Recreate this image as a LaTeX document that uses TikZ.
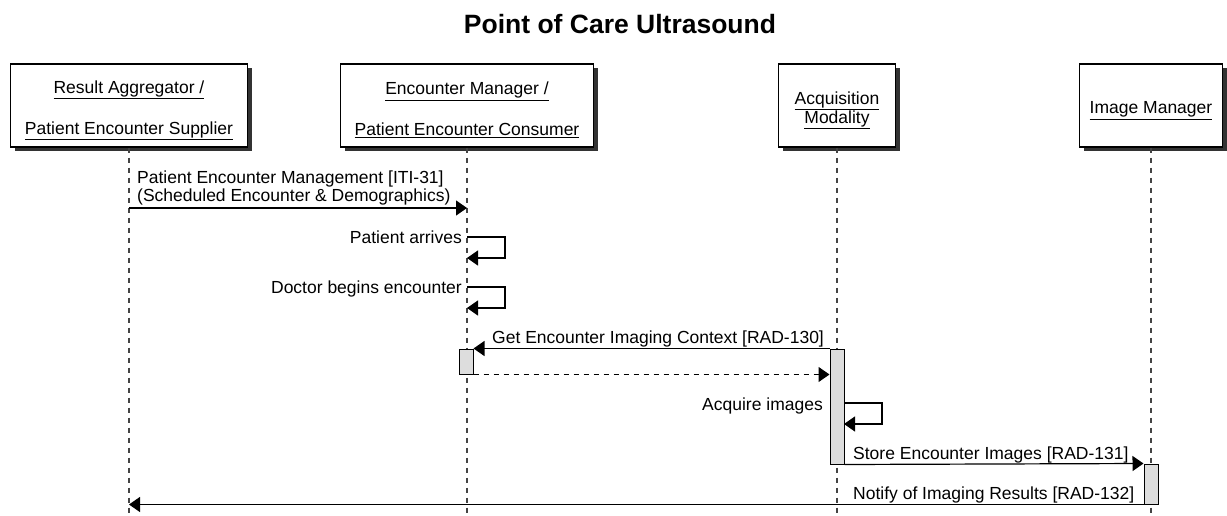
\documentclass[tikz,border=0pt]{standalone}
\usepackage{fontspec}
\setmainfont{Liberation Sans}
\usetikzlibrary{arrows.meta,shadows}
\definecolor{actfill}{HTML}{DDDDDD}
\definecolor{lifegray}{HTML}{444444}
\newcommand{\msgfont}{\fontsize{17.5}{18}\selectfont}
\newcommand{\topstrut}{\rule{0pt}{22pt}}

\begin{document}
\begin{tikzpicture}[x=1pt, y=-1pt,
    actor/.style={draw, line width=1.2pt, fill=white, minimum height=83pt, align=center,
      font=\fontsize{17.5}{19}\selectfont, inner sep=0pt,
      drop shadow={shadow xshift=4pt, shadow yshift=-4pt, fill=black!80, opacity=1}},
    lifeline/.style={draw=lifegray, line width=1.1pt, dash pattern=on 5pt off 5pt},
    act/.style={draw, line width=1pt, fill=actfill, minimum width=14pt, inner sep=0pt},
    msg/.style={line width=1.2pt, -{Triangle[length=11pt,width=15pt]}},
    reply/.style={msg, dash pattern=on 5pt off 5pt},
    lbl/.style={font=\msgfont, inner sep=0pt}]
    \useasboundingbox (0,0) rectangle (1227,516);

    \node[font=\bfseries\fontsize{26.5}{30}\selectfont, anchor=base] (title) at (620,34) {Point of Care Ultrasound};

    % participants
    \node[actor, minimum width=237pt] (ra) at (129,105.5)
        {\topstrut\underline{Result Aggregator /}\\[22pt]\underline{Patient Encounter Supplier}};
    \node[actor, minimum width=253pt] (em) at (467,105.5)
        {\topstrut\underline{Encounter Manager /}\\[22pt]\underline{Patient Encounter Consumer}};
    \node[actor, minimum width=117pt] (am) at (837,105.5)
        {\topstrut\underline{Acquisition}\\\underline{Modality}};
    \node[actor, minimum width=143pt] (im) at (1151,105.5) {\topstrut\underline{Image Manager}};

    \coordinate (bottom) at (0,516);
    \coordinate (m1) at (0,208);
    \coordinate (arrive) at (467,237);
    \coordinate (begin) at (467,287);
    \coordinate (acq) at (844,403);

    % lifelines
    \draw[lifeline] (ra.south) -- (ra |- bottom);
    \draw[lifeline] (em.south) -- (em |- bottom);
    \draw[lifeline] (am.south) -- (am |- bottom);
    \draw[lifeline] (im.south) -- (im |- bottom);

    % activations
    \node[act, minimum height=25pt] (emact) at (466,361.5) {};
    \node[act, minimum height=115pt] (amact) at (837,406.5) {};
    \node[act, minimum height=40pt] (imact) at (1151,484) {};

    % messages
    \draw[msg] (ra |- m1) -- (em |- m1);
    \node[lbl, anchor=south west, align=left] (m1txt) at (137,205)
        {Patient Encounter Management [ITI-31]\\(Scheduled Encounter \& Demographics)};

    \draw[msg] (arrive) -- ++(38,0) -- ++(0,21) -- ++(-38,0);
    \node[lbl, anchor=base east] (arrivetxt) at (462,243) {Patient arrives};

    \draw[msg] (begin) -- ++(38,0) -- ++(0,21) -- ++(-38,0);
    \node[lbl, anchor=base east] (begintxt) at (462,293) {Doctor begins encounter};

    \draw[msg] (amact.north west) -- (emact.north east);
    \node[lbl, anchor=base west] (gettxt) at (492,343) {Get Encounter Imaging Context [RAD-130]};
    \draw[reply] (emact.south east) -- (amact.west |- emact.south east);

    \draw[msg] (acq) -- ++(38,0) -- ++(0,21) -- ++(-38,0);
    \node[lbl, anchor=base east] (acqtxt) at (823,410) {Acquire images};

    \draw[msg] (amact.south east) -- (imact.north west);
    \node[lbl, anchor=base west] (storetxt) at (853,459) {Store Encounter Images [RAD-131]};

    \draw[msg] (imact.south west) -- (ra |- imact.south west);
    \node[lbl, anchor=base west] (notifytxt) at (853,499) {Notify of Imaging Results [RAD-132]};
\end{tikzpicture}
\end{document}
